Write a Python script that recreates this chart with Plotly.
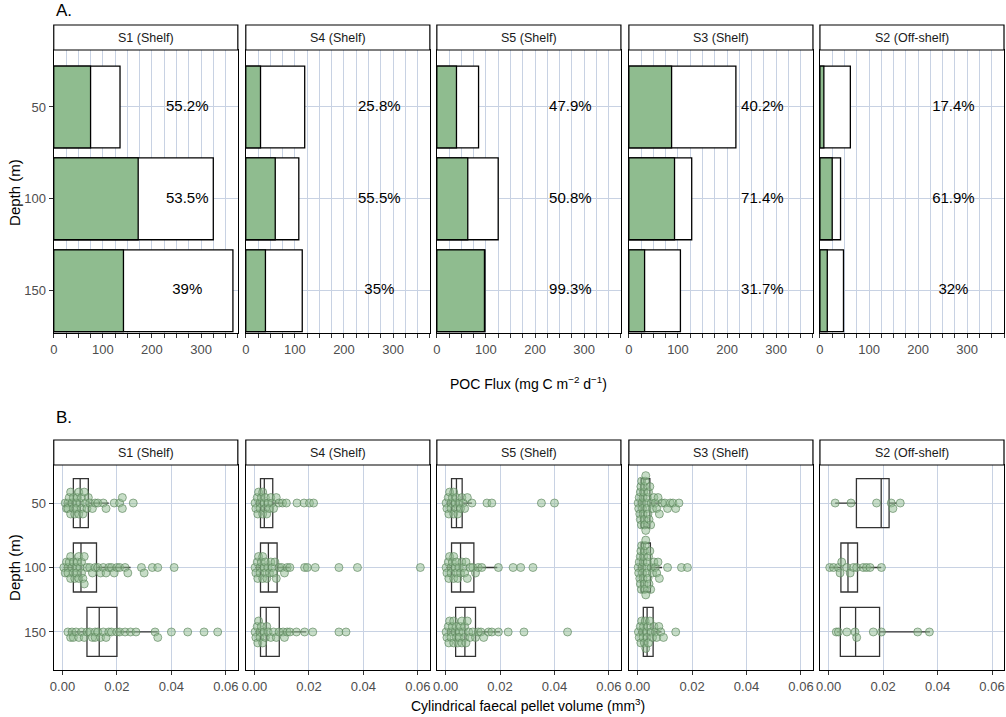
import plotly.graph_objects as go

stations = ["S1 (Shelf)", "S4 (Shelf)", "S5 (Shelf)", "S3 (Shelf)", "S2 (Off-shelf)"]
depths = ["50", "100", "150"]

# Panel A: POC flux (green = faecal pellet part, total = bar length)
green = [[75, 172, 142], [30, 60, 40], [40, 63, 97], [87, 93, 32], [8, 25, 15]]
total = [[135, 325, 365], [120, 108, 115], [85, 125, 98], [218, 128, 105], [62, 42, 48]]
pct = [["55.2%", "53.5%", "39%"], ["25.8%", "55.5%", "35%"], ["47.9%", "50.8%", "99.3%"],
       ["40.2%", "71.4%", "31.7%"], ["17.4%", "61.9%", "32%"]]

# Panel B: box statistics [q1, median, q3, lowerfence, upperfence]
box_stats = [
    [[0.004, 0.0065, 0.0095, 0.001, 0.017], [0.004, 0.0068, 0.0125, 0.0005, 0.025], [0.009, 0.0135, 0.020, 0.002, 0.035]],
    [[0.0022, 0.0036, 0.0067, 0.0003, 0.011], [0.0022, 0.0051, 0.0083, 0.0003, 0.013], [0.0022, 0.0043, 0.0091, 0.0003, 0.019]],
    [[0.0022, 0.004, 0.0061, 0.0003, 0.0097], [0.0022, 0.0055, 0.0104, 0.0003, 0.019], [0.0037, 0.0071, 0.011, 0.0005, 0.020]],
    [[0.0013, 0.0023, 0.0045, 0.0001, 0.0085], [0.0013, 0.0022, 0.0047, 0.0001, 0.009], [0.0021, 0.0035, 0.0057, 0.0002, 0.0088]],
    [[0.0102, 0.0193, 0.0222, 0.0024, 0.0249], [0.0045, 0.0071, 0.0106, 0.0002, 0.0193], [0.0043, 0.0099, 0.0187, 0.003, 0.0372]],
]

pts = [
    [
        [0.001, 0.0015, 0.002, 0.002, 0.0025, 0.003, 0.003, 0.0035, 0.004, 0.004, 0.0045, 0.005, 0.005, 0.0055, 0.006, 0.006,
         0.0065, 0.007, 0.007, 0.0075, 0.008, 0.0085, 0.009, 0.0095, 0.010, 0.011, 0.012, 0.013, 0.015, 0.016, 0.019, 0.021,
         0.022, 0.022, 0.026],
        [0.0005, 0.001, 0.0015, 0.002, 0.002, 0.0025, 0.003, 0.003, 0.0035, 0.004, 0.004, 0.0045, 0.005, 0.005, 0.0055, 0.006,
         0.006, 0.0065, 0.007, 0.007, 0.0075, 0.008, 0.008, 0.009, 0.010, 0.011, 0.012, 0.013, 0.014, 0.015, 0.016, 0.017,
         0.018, 0.019, 0.020, 0.021, 0.023, 0.024, 0.029, 0.030, 0.033, 0.035, 0.041],
        [0.002, 0.003, 0.0035, 0.004, 0.005, 0.006, 0.007, 0.008, 0.009, 0.010, 0.011, 0.012, 0.012, 0.013, 0.014, 0.015,
         0.016, 0.017, 0.018, 0.020, 0.021, 0.023, 0.025, 0.027, 0.034, 0.035, 0.040, 0.046, 0.052, 0.057],
    ],
    [
        [0.0002, 0.0005, 0.001, 0.0012, 0.0015, 0.002, 0.002, 0.0025, 0.003, 0.003, 0.0035, 0.004, 0.004, 0.0045, 0.005,
         0.0055, 0.006, 0.0065, 0.007, 0.008, 0.009, 0.0103, 0.0117, 0.0156, 0.0182, 0.0202, 0.0217],
        [0.0002, 0.0005, 0.001, 0.0012, 0.0015, 0.002, 0.002, 0.0025, 0.003, 0.003, 0.0035, 0.004, 0.004, 0.0045, 0.005,
         0.0055, 0.006, 0.0065, 0.007, 0.0075, 0.008, 0.009, 0.010, 0.011, 0.012, 0.013, 0.0184, 0.0194, 0.0223, 0.031,
         0.0378, 0.0609],
        [0.0002, 0.0005, 0.001, 0.0012, 0.0015, 0.002, 0.002, 0.0025, 0.003, 0.0035, 0.004, 0.0045, 0.005, 0.006, 0.007,
         0.008, 0.009, 0.0105, 0.011, 0.012, 0.013, 0.0154, 0.0184, 0.0214, 0.031, 0.0336],
    ],
    [
        [0.0002, 0.0005, 0.001, 0.0012, 0.0015, 0.002, 0.002, 0.0025, 0.003, 0.003, 0.0035, 0.004, 0.004, 0.0045, 0.005,
         0.0055, 0.006, 0.0065, 0.007, 0.008, 0.0097, 0.0152, 0.017, 0.0352, 0.040],
        [0.0002, 0.0005, 0.001, 0.0012, 0.0015, 0.002, 0.002, 0.0025, 0.003, 0.003, 0.0035, 0.004, 0.004, 0.0045, 0.005,
         0.0055, 0.006, 0.0065, 0.007, 0.0075, 0.008, 0.009, 0.010, 0.011, 0.012, 0.0133, 0.0194, 0.0248, 0.0276, 0.0321],
        [0.0002, 0.0005, 0.001, 0.0012, 0.0015, 0.002, 0.002, 0.0025, 0.003, 0.003, 0.0035, 0.004, 0.004, 0.0045, 0.005,
         0.005, 0.0055, 0.006, 0.006, 0.0065, 0.007, 0.007, 0.0075, 0.008, 0.0085, 0.009, 0.010, 0.011, 0.012, 0.013,
         0.014, 0.0158, 0.017, 0.0194, 0.023, 0.0288, 0.0448],
    ],
    [
        [0.0002, 0.0004, 0.0006, 0.0008, 0.001, 0.001, 0.0012, 0.0014, 0.0015, 0.0016, 0.0018, 0.002, 0.002, 0.0022, 0.0024,
         0.0025, 0.0026, 0.0028, 0.003, 0.003, 0.0032, 0.0034, 0.0036, 0.0038, 0.004, 0.0042, 0.0045, 0.0048, 0.005, 0.0055,
         0.006, 0.0065, 0.007, 0.0075, 0.008, 0.009, 0.010, 0.011, 0.012, 0.013, 0.014, 0.0152],
        [0.0002, 0.0004, 0.0006, 0.0008, 0.001, 0.001, 0.0012, 0.0014, 0.0015, 0.0016, 0.0018, 0.002, 0.002, 0.0022, 0.0024,
         0.0025, 0.0026, 0.0028, 0.003, 0.003, 0.0032, 0.0034, 0.0036, 0.0038, 0.004, 0.0042, 0.0045, 0.0048, 0.005, 0.0055,
         0.006, 0.0065, 0.007, 0.0075, 0.008, 0.011, 0.0161, 0.0183],
        [0.0003, 0.0006, 0.001, 0.0012, 0.0015, 0.0018, 0.002, 0.0022, 0.0025, 0.0028, 0.003, 0.0032, 0.0035, 0.0038, 0.004,
         0.0045, 0.005, 0.0055, 0.006, 0.0065, 0.007, 0.0078, 0.0085, 0.0095, 0.014],
    ],
    [
        [0.0024, 0.0082, 0.0176, 0.023, 0.0236, 0.0263],
        [0.0004, 0.0018, 0.0036, 0.0042, 0.0048, 0.0067, 0.0079, 0.0091, 0.0103, 0.0127, 0.0139, 0.0152, 0.0194],
        [0.0028, 0.0036, 0.0067, 0.0097, 0.0103, 0.0164, 0.0194, 0.0327, 0.0370],
    ],
]

GREEN = "#8fbc8f"
GRID = "#c8d2e3"
FONT = "Arial, Liberation Sans"
lefts = [50, 243, 435, 628, 820]
FW = 185
W, H = 1006, 717

fig = go.Figure()

def swarm(vals, bw=0.0016, step=0.085):
    bins = {}
    out = []
    for v in vals:
        k = int(v // bw)
        n = bins.get(k, 0)
        bins[k] = n + 1
        off = ((n + 1) // 2) * step * (1 if n % 2 else -1)
        out.append(off)
    return out

layout_axes = {}
for i in range(5):
    xa_a = f"x{i+1}" if i else "x"
    ya_a = f"y{i+1}" if i else "y"
    j = i + 6
    xa_b, ya_b = f"x{j}", f"y{j}"
    dom = [lefts[i] / W, (lefts[i] + FW) / W]

    fig.add_trace(go.Bar(y=[1, 2, 3], x=total[i], orientation="h", width=0.89, marker=dict(color="white", line=dict(color="black", width=1.3)),
                         xaxis=xa_a, yaxis=ya_a, showlegend=False))
    fig.add_trace(go.Bar(y=[1, 2, 3], x=green[i], orientation="h", width=0.89, marker=dict(color=GREEN, line=dict(color="black", width=1.3)),
                         xaxis=xa_a, yaxis=ya_a, showlegend=False))
    fig.add_trace(go.Scatter(y=[1, 2, 3], x=[272] * 3, mode="text", text=pct[i], textfont=dict(size=15, color="black", family=FONT),
                             xaxis=xa_a, yaxis=ya_a, showlegend=False))

    for d in range(3):
        q1, med, q3, lf, uf = box_stats[i][d]
        fig.add_trace(go.Box(y=[d + 1], q1=[q1], median=[med], q3=[q3], lowerfence=[lf], upperfence=[uf], orientation="h",
                             width=0.76, fillcolor="rgba(255,255,255,0)", line=dict(color="#333333", width=1.3),
                             boxpoints=False, xaxis=xa_b, yaxis=ya_b, showlegend=False, whiskerwidth=0))
        vals = pts[i][d]
        offs = swarm(vals)
        fig.add_trace(go.Scatter(x=vals, y=[d + 1 + o for o in offs], mode="markers",
                                 marker=dict(size=8, color="rgba(143,188,143,0.5)", line=dict(color="rgba(90,130,90,0.8)", width=0.8)),
                                 xaxis=xa_b, yaxis=ya_b, showlegend=False))

    common = dict(showline=True, linecolor="black", linewidth=1.2, mirror=True, zeroline=False, ticks="outside",
                  tickcolor="#333", ticklen=4, tickfont=dict(size=13, color="#4d4d4d", family=FONT))
    tv = list(range(0, 376, 25))
    layout_axes["xaxis" + (str(i + 1) if i else "")] = dict(common, domain=dom, range=[0, 375], tickvals=tv,
                                                            ticktext=[str(v) if v % 100 == 0 else "" for v in tv],
                                                            showgrid=True, gridcolor=GRID, anchor=ya_a)
    layout_axes["yaxis" + (str(i + 1) if i else "")] = dict(common, domain=[1 - 333 / H, 1 - 50 / H], range=[3.46, 0.38],
                                                            tickvals=[1, 2, 3], ticktext=depths if i == 0 else ["", "", ""],
                                                            ticks="outside" if i == 0 else "", showgrid=True, gridcolor=GRID, anchor=xa_a)
    layout_axes[f"xaxis{j}"] = dict(common, domain=dom, range=[-0.0032, 0.0644], tickvals=[0, 0.02, 0.04, 0.06],
                                    ticktext=["0.00", "0.02", "0.04", "0.06"], showgrid=True, gridcolor=GRID, anchor=ya_b)
    layout_axes[f"yaxis{j}"] = dict(common, domain=[1 - 670 / H, 1 - 465 / H], range=[3.59, 0.41],
                                    tickvals=[1, 2, 3], ticktext=depths if i == 0 else ["", "", ""],
                                    ticks="outside" if i == 0 else "", showgrid=True, gridcolor=GRID, anchor=xa_b)

shapes, annots = [], []
def ann(x, y, text, size, color="black", angle=0, xanchor="center"):
    annots.append(dict(xref="paper", yref="paper", x=x / W, y=1 - y / H, text=text, showarrow=False,
                       xanchor=xanchor, yanchor="middle", textangle=angle, font=dict(size=size, color=color, family=FONT)))

for i in range(5):
    for (top, bot) in [(25, 50), (440, 465)]:
        shapes.append(dict(type="rect", xref="paper", yref="paper", x0=lefts[i] / W, x1=(lefts[i] + FW) / W,
                           y0=1 - bot / H, y1=1 - top / H, line=dict(color="black", width=1.2), fillcolor="white"))
        ann(lefts[i] + FW / 2, (top + bot) / 2, stations[i], 12.5, "#1a1a1a")

ann(50, 11, "A.", 17, xanchor="left")
ann(50, 417, "B.", 17, xanchor="left")
ann(527, 383, "POC Flux (mg C m<sup>−2</sup> d<sup>−1</sup>)", 14)
ann(527, 705, "Cylindrical faecal pellet volume (mm<sup>3</sup>)", 14)
ann(10, 192, "Depth (m)", 15, angle=-90)
ann(10, 567, "Depth (m)", 15, angle=-90)

fig.update_layout(width=W, height=H, margin=dict(l=0, r=0, t=0, b=0), plot_bgcolor="white", paper_bgcolor="white",
                  barmode="overlay", shapes=shapes, annotations=annots, **layout_axes)
fig.write_html("out.html", config={"displayModeBar": False})
with open("out.html", encoding="utf-8") as f:
    html = f.read()
html = html.replace("<body>", '<body style="margin:0;padding:0;">', 1)
with open("out.html", "w", encoding="utf-8") as f:
    f.write(html)
